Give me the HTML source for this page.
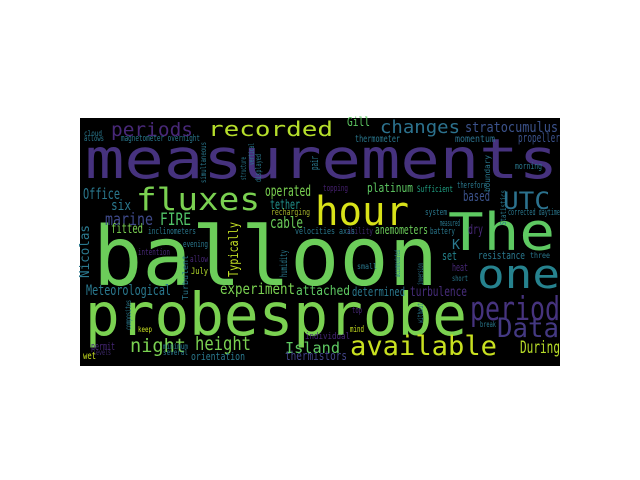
<!DOCTYPE html>
<html><head><meta charset="utf-8"><style>
html,body{margin:0;padding:0;background:#fff;width:640px;height:480px;overflow:hidden}
svg{display:block}
text{font-family:"DejaVu Sans Mono","Liberation Mono",monospace}
</style></head><body>
<svg id="wc" width="640" height="480" viewBox="0 0 640 480" xmlns="http://www.w3.org/2000/svg">
<rect x="80" y="118" width="480" height="248" fill="#000"/>
</svg>
<script>
// text, x, baseline y, length, font size, colour, rotated
const words = [
["measurements",85,178,473,55,"#46327e",0],
["balloon",93,285,345,82,"#6ccd5a",0],
["probesprobe",85,335,382,59,"#7ad151",0],
["hour",315,225,94,40,"#d8e219",0],
["The",448,250,107,52,"#5ec962",0],
["one",477,288,83,40,"#26828e",0],
["fluxes",136,210,124,31,"#7ad151",0],
["recorded",208,136,125,20,"#b5de2b",0],
["periods",111,136,82,19,"#482878",0],
["changes",380,133,80,18,"#2c728e",0],
["Gill",347,126,23,12,"#5ec962",0],
["stratocumulus",465,132,93,14,"#3b528b",0],
["thermometer",355,142,45,10,"#2a788e",0],
["momentum",455,142,40,10,"#2c728e",0],
["propeller",518,142,42,12,"#3b528b",0],
["platinum",367,192,46,12,"#5ec962",0],
["Sufficient",417,192,36,9,"#20a486",0],
["therefore",457,188,30,9,"#2a788e",0],
["morning",515,169,27,9,"#2a788e",0],
["based",463,201,27,14,"#3b528b",0],
["UTC",503,209,47,24,"#2c728e",0],
["topping",323,191,25,9,"#482173",0],
["system",425,215,22,9,"#2a788e",0],
["corrected daytime",508,215,52,9,"#2a788e",0],
["measured",440,226,20,9,"#2a788e",0],
["anemometers",375,234,53,12,"#6ccd5a",0],
["battery",430,234,25,9,"#2a788e",0],
["dry",468,234,15,13,"#482878",0],
["ability",347,234,26,9,"#3e2a6b",0],
["K",452,249,8,13,"#2a788e",0],
["set",442,260,15,12,"#25848e",0],
["resistance",478,259,47,11,"#2a788e",0],
["three",530,258,20,8,"#2a788e",0],
["heat",452,271,16,11,"#482878",0],
["small",357,269,20,8,"#2a788e",0],
["short",452,281,16,8,"#2a788e",0],
["turbulence",410,296,57,13,"#472d7b",0],
["attached",296,295,54,13,"#5ec962",0],
["determined",352,296,53,12,"#2a788e",0],
["experiment",220,294,75,15,"#7ad151",0],
["Meteorological",86,295,85,14,"#2a788e",0],
["night",130,352,56,19,"#7ad151",0],
["height",195,350,56,19,"#7ad151",0],
["Island",285,353,55,15,"#5ec962",0],
["orientation",191,360,54,11,"#2a788e",0],
["thermistors",285,360,62,12,"#414487",0],
["available",350,355,147,27,"#c8e020",0],
["During",520,353,40,17,"#b8de29",0],
["Data",497,337,62,27,"#443983",0],
["period",470,320,90,33,"#46337e",0],
["permit",91,350,24,11,"#482878",0],
["levels",93,355,18,8,"#3e2a6b",0],
["wet",83,359,13,10,"#c8e020",0],
["minimum",163,349,25,8,"#2a788e",0],
["several",163,355,25,8,"#2a788e",0],
["keep",138,332,14,8,"#c8e020",0],
["evening",183,247,25,9,"#2a788e",0],
["intention",138,255,32,9,"#482878",0],
["allow",190,262,18,9,"#482878",0],
["July",191,274,17,9,"#b5de2b",0],
["individual",305,339,45,9,"#482878",0],
["mind",350,332,14,9,"#c8e020",0],
["break",480,327,16,8,"#2a788e",0],
["top",352,313,10,9,"#482878",0],
["Office",83,199,37,15,"#2a788e",0],
["six",111,210,20,14,"#2a788e",0],
["marine",105,225,48,17,"#3e4989",0],
["FIRE",160,225,31,17,"#52c569",0],
["fitted",111,233,32,13,"#7ad151",0],
["inclinometers",148,234,48,9,"#2a788e",0],
["operated",265,196,46,15,"#7ad151",0],
["tether",270,209,30,13,"#21918c",0],
["recharging",271,215,39,9,"#a5b32a",0],
["cable",270,228,33,16,"#6ccd5a",0],
["velocities axis",295,234,60,9,"#2a788e",0],
["cloud",84,136,18,8,"#2a788e",0],
["allows",84,141,20,8,"#2a788e",0],
["magnetometer overnight",121,141,79,9,"#2a788e",0],
["Typically",238,277,55,13,"#c2df23",1],
["Nicolas",89,278,53,13,"#2a788e",1],
["humidity",287,277,27,10,"#2a788e",1],
["simultaneous",206,183,41,8,"#2a788e",1],
["structure",246,180,23,8,"#2a788e",1],
["vertical",254,165,22,8,"#2a788e",1],
["displayed",261,182,28,8,"#2a788e",1],
["pair",318,170,14,11,"#2a788e",1],
["boundary",490,192,37,8,"#2a788e",1],
["Statistics",506,225,35,8,"#2a788e",1],
["composites",131,330,30,8,"#2a788e",1],
["Turbulent",188,300,45,8,"#2a788e",1],
["accommodated",400,277,27,8,"#2a788e",1],
["inversion",423,285,22,8,"#2a788e",1],
["without",423,323,20,8,"#2a788e",1]
];
const svg = document.getElementById('wc');
const NS = 'http://www.w3.org/2000/svg';
for (const w of words) {
  const t = document.createElementNS(NS, 'text');
  t.textContent = w[0];
  t.setAttribute('x', w[1]);
  t.setAttribute('y', w[2]);
  t.setAttribute('font-size', w[4]);
  t.setAttribute('fill', w[5]);
  t.setAttribute('textLength', w[3]);
  t.setAttribute('lengthAdjust', 'spacingAndGlyphs');
  if (w[6]) t.setAttribute('transform', 'rotate(-90 ' + w[1] + ' ' + w[2] + ')');
  
  
  svg.appendChild(t);
}
</script>
</body></html>
